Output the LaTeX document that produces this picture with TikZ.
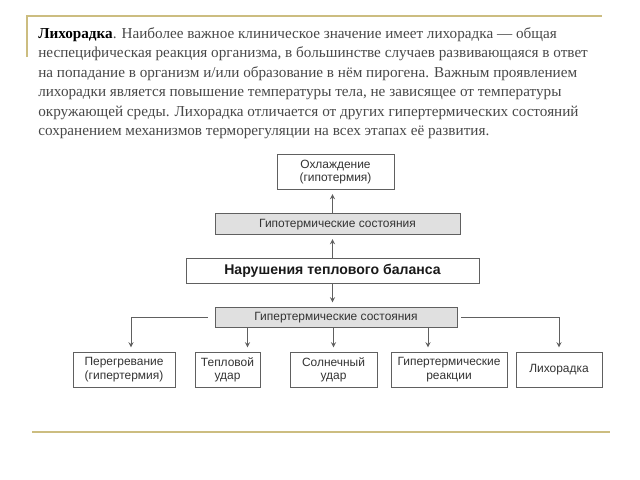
\documentclass[tikz,border=0pt]{standalone}
\usepackage{fontspec}
\setmainfont{Liberation Serif}
\setsansfont{Liberation Sans}
\usepackage{tikz}
\usetikzlibrary{arrows,positioning}
\usepackage{xcolor}
\definecolor{goldline}{RGB}{204,189,128}
\definecolor{textgray}{RGB}{72,72,72}
\definecolor{boxline}{RGB}{96,96,96}

\begin{document}
\begin{tikzpicture}[
        x=0.025cm, y=-0.025cm,
        block/.style={
            rectangle,
            minimum height=0.875cm,
            inner sep=1pt,
            text centered,
            draw=boxline,
            line width=0.6pt,
            fill=white,
            font=\sffamily\fontsize{8.5}{9.5}\selectfont,
            text=black!80,
            align=center
        },
        group/.style={
            block,
            minimum height=0.5cm,
            text height=1.5ex,
            text depth=0.3ex,
            fill=black!12
        },
        core/.style={
            block,
            minimum height=0.625cm,
            text height=1.5ex,
            text depth=0.3ex,
            font=\sffamily\bfseries\fontsize{10}{12}\selectfont,
            text=black!90
        },
        arrow/.style={
            ->,
            >=stealth,
            line width=0.65pt,
            color=boxline,
            shorten >=3pt
        },
        frame/.style={
            line width=2pt,
            color=goldline
        }
    ]
    \useasboundingbox (0,0) rectangle (640,480);

    % Slide frame (gold lines)
    \draw[frame] (27,57) -- (27,16) -- (602,16);
    \draw[frame] (32,432) -- (610,432);

    % Paragraph (top)
    \node[anchor=north west, inner sep=0pt, align=left, text=textgray,
          font=\fontsize{10.8}{13.9}\selectfont] (para) at (38,27)
        {\textbf{\color{black}Лихорадка}. Наиболее важное клиническое значение имеет лихорадка — общая\\
         неспецифическая реакция организма, в большинстве случаев развивающаяся в ответ\\
         на попадание в организм и/или образование в нём пирогена. Важным проявлением\\
         лихорадки является повышение температуры тела, не зависящее от температуры\\
         окружающей среды. Лихорадка отличается от других гипертермических состояний\\
         сохранением механизмов терморегуляции на всех этапах её развития.};

    % Cooling (top)
    \node[block, minimum width=2.925cm] (cool) at (335.5,172) {Охлаждение\\(гипотермия)};

    % Hypothermic states
    \node[group, minimum width=6.125cm, minimum height=0.525cm] (hypo) at (337.5,224) {Гипотермические состояния};

    % Heat balance disorders (center)
    \node[core, minimum width=7.325cm] (core) at (332.5,270.5) {Нарушения теплового баланса};

    % Hyperthermic states
    \node[group, minimum width=6.05cm] (hyper) at (336,317) {Гипертермические состояния};

    % Bottom row
    \node[block, minimum width=2.55cm] (overheat) at (124,369.5) {Перегревание\\(гипертермия)};
    \node[block, minimum width=1.625cm] (heat) at (227.5,369.5) {Тепловой\\удар};
    \node[block, minimum width=2.175cm] (sun) at (333.5,369.5) {Солнечный\\удар};
    \node[block, minimum width=2.9cm] (react) at (449,369.5) {Гипертермические\\реакции};
    \node[block, minimum width=2.15cm] (fever) at (559,369.5) {Лихорадка};

    % Arrows up from the center
    \draw[arrow] (core.north) -- (core.north |- hypo.south);
    \draw[arrow] (core.north |- hypo.north) -- (core.north |- cool.south);

    % Arrows down from the center
    \draw[arrow] (core.south) -- (core.south |- hyper.north);
    \draw[arrow] ([xshift=-0.175cm]hyper.west) -| ([xshift=0.175cm]overheat.north);
    \draw[arrow] ([xshift=0.5cm]heat.north |- hyper.south) -- ([xshift=0.5cm]heat.north);
    \draw[arrow] (sun.north |- hyper.south) -- (sun.north);
    \draw[arrow] ([xshift=-0.525cm]react.north |- hyper.south) -- ([xshift=-0.525cm]react.north);
    \draw[arrow] ([xshift=0.1cm]hyper.east) -| (fever.north);

    \end{tikzpicture}
\end{document}
